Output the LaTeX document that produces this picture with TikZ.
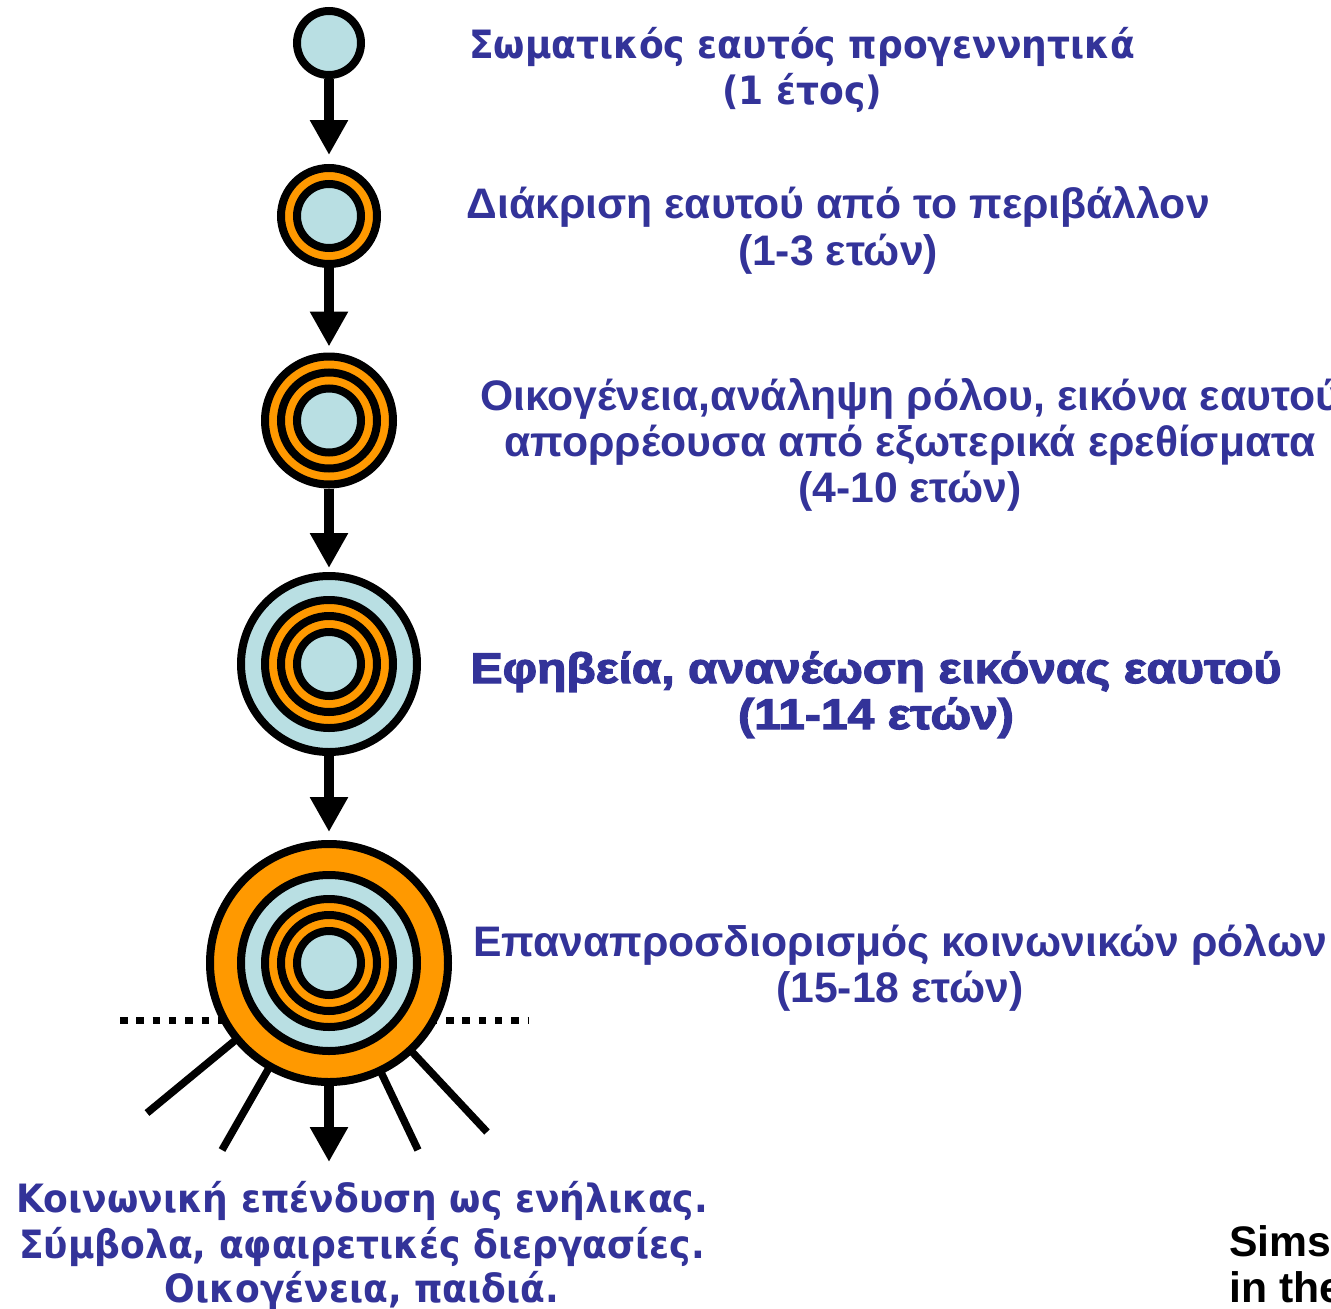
\documentclass[tikz,border=0pt]{standalone}
\usepackage{fontspec}
\setmainfont{Liberation Sans}
\newfontfamily\tahomaf[FakeStretch=0.925]{DejaVu Sans}
\newfontfamily\heavyf[FakeBold=3,FakeStretch=1.125]{Liberation Sans Bold}
\usetikzlibrary{arrows.meta}
\pgfdeclarelayer{background}
\pgfsetlayers{background,main}
\definecolor{lb}{HTML}{B9DFE3}
\definecolor{og}{HTML}{FF9900}
\definecolor{tb}{HTML}{333399}
\tikzset{
  ring/.style={circle, draw=black, line width=8pt, inner sep=0pt, minimum size=#1},
  arr/.style={line width=10pt, -{Triangle[length=35pt 0 0,width=36pt 0 0]}, shorten >=7pt},
  ray/.style={line width=7.5pt},
  dotline/.style={line width=7.5pt, dash pattern=on 7.5pt off 8.8pt},
  lbl/.style={anchor=base, inner sep=0pt, text=tb, font=\fontsize{42.7}{47}\selectfont\bfseries},
  lblt/.style={anchor=base, inner sep=0pt, text=tb, font=\fontsize{39}{47}\selectfont\tahomaf\bfseries},
  lblh/.style={anchor=base, inner sep=0pt, text=tb, font=\fontsize{42.7}{47}\selectfont\heavyf},
  lblk/.style={anchor=base west, inner sep=0pt, text=black, font=\fontsize{42.7}{47}\selectfont\bfseries}
}
\begin{document}
\begin{tikzpicture}[x=1pt,y=-1pt]
\useasboundingbox (0,0) rectangle (1331,1309);
% circles
\node[ring=64pt, fill=lb] (c1) at (329,43) {};
\node[ring=96pt, fill=og] (c2) at (329,216) {};
\node[ring=64pt, fill=lb] (c2a) at (c2) {};
\node[ring=128pt, fill=og] (c3) at (329,420.5) {};
\node[ring=96pt, fill=og] (c3a) at (c3) {};
\node[ring=64pt, fill=lb] (c3b) at (c3) {};
\node[ring=176pt, fill=lb] (c4) at (329,664) {};
\node[ring=128pt, fill=og] (c4a) at (c4) {};
\node[ring=96pt, fill=og] (c4b) at (c4) {};
\node[ring=64pt, fill=lb] (c4c) at (c4) {};
\node[ring=238pt, fill=og] (c5) at (329,963) {};
\node[ring=176pt, fill=lb] (c5a) at (c5) {};
\node[ring=128pt, fill=og] (c5b) at (c5) {};
\node[ring=96pt, fill=og] (c5c) at (c5) {};
\node[ring=64pt, fill=lb] (c5d) at (c5) {};
% arrows
\draw[arr, shorten >=9pt] (c1) -- (c2);
\draw[arr, shorten >=6pt] (c2) -- (c3);
\draw[arr, shorten >=4pt] (c3) -- (c4);
\draw[arr, shorten >=8pt] (c4) -- (c5);
\coordinate (bend) at (329,1162);
\draw[arr, shorten >=0pt] (c5) -- (bend);
% dotted line and rays behind
\coordinate (d1) at (120,1020.5);
\coordinate (d2) at (528,1020.5);
\coordinate (r1) at (147,1113);
\coordinate (r2) at (222,1150);
\coordinate (r3) at (418,1150);
\coordinate (r4) at (487,1132);
\begin{pgfonlayer}{background}
\draw[dotline] (d1) -- (d2);
\draw[ray] (c5.center) -- (r1);
\draw[ray] (c5.center) -- (r2);
\draw[ray] (c5.center) -- (r3);
\draw[ray] (c5.center) -- (r4);
\end{pgfonlayer}
% labels
\node[lblt] (t1a) at (802,58) {Σωματικός εαυτός προγεννητικά};
\node[lblt] (t1b) at (802,104) {(1 έτος)};
\node[lbl] (t2a) at (838,218) {Διάκριση εαυτού από το περιβάλλον};
\node[lbl] (t2b) at (838,265) {(1-3 ετών)};
\node[lbl] (t3a) at (910,410) {Οικογένεια,ανάληψη ρόλου, εικόνα εαυτού};
\node[lbl] (t3b) at (910,456) {απορρέουσα από εξωτερικά ερεθίσματα};
\node[lbl] (t3c) at (910,502) {(4-10 ετών)};
\node[lblh] (t4a) at (876,683) {Εφηβεία, ανανέωση εικόνας εαυτού};
\node[lblh] (t4b) at (876,729) {(11-14 ετών)};
\node[lbl] (t5a) at (900,956) {Επαναπροσδιορισμός κοινωνικών ρόλων};
\node[lbl] (t5b) at (900,1002) {(15-18 ετών)};
\node[lblt] (t6a) at (362,1212) {Κοινωνική επένδυση ως ενήλικας.};
\node[lblt] (t6b) at (362,1258) {Σύμβολα, αφαιρετικές διεργασίες.};
\node[lblt] (t6c) at (362,1302) {Οικογένεια, παιδιά.};
\node[lblk] (s1) at (1229,1256) {Sims};
\node[lblk] (s2) at (1229,1302) {in the};
\end{tikzpicture}
\end{document}
